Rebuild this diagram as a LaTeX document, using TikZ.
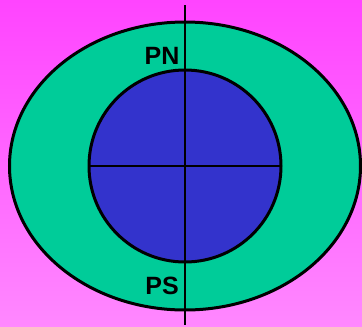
\documentclass[tikz,border=0pt]{standalone}
\usepackage{fontspec}
\setmainfont{Liberation Sans}
\definecolor{bgtop}{HTML}{FF44FF}
\definecolor{bgbot}{HTML}{FF88FF}
\definecolor{outer}{HTML}{00CC99}
\definecolor{inner}{HTML}{3333CC}
\begin{document}
\begin{tikzpicture}[x=1pt,y=-1pt,
  outline/.style={draw=black,line width=3pt},
  axis/.style={draw=black,line width=2.4pt},
  pole/.style={font=\bfseries\fontsize{25}{25}\selectfont,inner sep=0pt}]
\shade[top color=bgtop,bottom color=bgbot] (0,0) rectangle (362,327);
\useasboundingbox (0,0) rectangle (362,327);
\coordinate (c) at (185,166);
\path[outline,fill=outer] (c) ellipse [x radius=175.5,y radius=144];
\path[outline,fill=inner] (c) circle [radius=96];
\coordinate (west) at (89,166);
\coordinate (east) at (281,166);
\coordinate (top) at (185,5);
\coordinate (bot) at (185,325);
\draw[axis] (west) -- (east);
\draw[axis] (top) -- (bot);
\node[pole] (pn) at (162,56) {PN};
\node[pole] (ps) at (162,286) {PS};
\end{tikzpicture}
\end{document}
